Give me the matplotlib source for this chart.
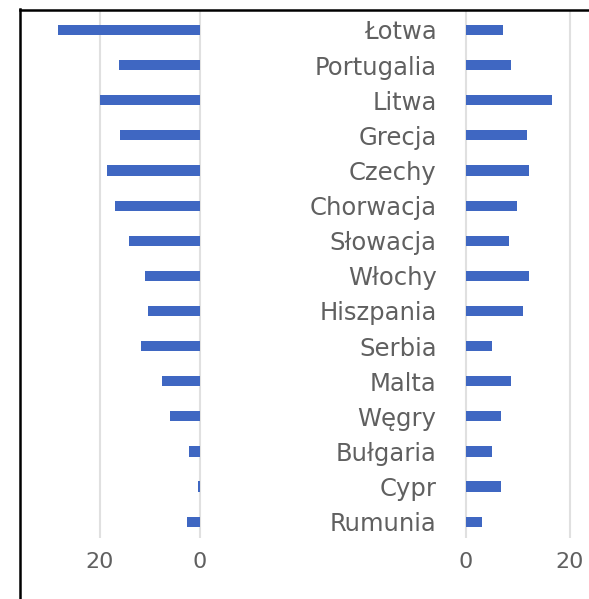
import matplotlib
matplotlib.use("Agg")
import matplotlib.pyplot as plt
from matplotlib.lines import Line2D

countries = ["Łotwa", "Portugalia", "Litwa", "Grecja", "Czechy", "Chorwacja",
             "Słowacja", "Włochy", "Hiszpania", "Serbia", "Malta", "Węgry",
             "Bułgaria", "Cypr", "Rumunia"]
left_values = [28.3, 16.2, 20.0, 16.0, 18.6, 17.0, 14.2, 10.9, 10.4, 11.7,
               7.5, 5.9, 2.2, 0.3, 2.6]
right_values = [7.2, 8.7, 16.5, 11.7, 12.2, 9.8, 8.3, 12.2, 10.9, 5.0,
                8.7, 6.8, 5.0, 6.8, 3.1]
tick_values = [0, 20]
tick_labels = ["0", "20"]

W, H = 589, 599
DPI = 100
fig = plt.figure(figsize=(W / DPI, H / DPI), dpi=DPI)
fig.patch.set_facecolor("white")

bar_color = "#3f67c2"
grid_color = "#e0e0e0"
text_color = "#606060"
font = "DejaVu Sans"

top_px, bot_px = 10, 538
ax_bottom = 1 - bot_px / H
ax_height = (bot_px - top_px) / H
row0, row_step = 30, 35.12
y_top = (top_px - row0) / row_step
y_bot = (bot_px - row0) / row_step

# Left panel
L0, L1 = 25, 215
axL = fig.add_axes([L0 / W, ax_bottom, (L1 - L0) / W, ax_height])
zeroL, pxuL = 200, 5.025
axL.barh(range(len(countries)), left_values, height=0.29, color=bar_color, zorder=3)
axL.set_xlim((zeroL - L0) / pxuL, -(L1 - zeroL) / pxuL)
axL.set_ylim(y_bot, y_top)

# Right panel
R0, R1 = 445, 610
axR = fig.add_axes([R0 / W, ax_bottom, (R1 - R0) / W, ax_height])
zeroR, pxuR = 465.7, 5.215
axR.barh(range(len(countries)), right_values, height=0.29, color=bar_color, zorder=3)
axR.set_xlim((R0 - zeroR) / pxuR, (R1 - zeroR) / pxuR)
axR.set_ylim(y_bot, y_top)

for ax in (axL, axR):
    for s in ax.spines.values():
        s.set_visible(False)
    ax.set_xticks(tick_values)
    ax.set_xticklabels(tick_labels, fontsize=16, color=text_color, family=font)
    ax.tick_params(axis="x", length=0, pad=10)
    ax.grid(axis="x", color=grid_color, linewidth=1.5, zorder=0)
    ax.set_axisbelow(True)
    ax.set_facecolor("none")

axL.set_yticks([])
axR.set_yticks(range(len(countries)))
axR.set_yticklabels(countries, fontsize=17.5, color=text_color, family=font)
axR.tick_params(axis="y", length=0, pad=6)

# Screenshot frame (left and top edges)
fig.add_artist(Line2D([19.5 / W, 19.5 / W], [0, 1 - 9 / H], transform=fig.transFigure,
                      color="black", linewidth=1.8))
fig.add_artist(Line2D([19.5 / W, 1], [1 - 9.5 / H, 1 - 9.5 / H], transform=fig.transFigure,
                      color="black", linewidth=1.8))

fig.savefig("out.png", dpi=DPI, facecolor="white")
